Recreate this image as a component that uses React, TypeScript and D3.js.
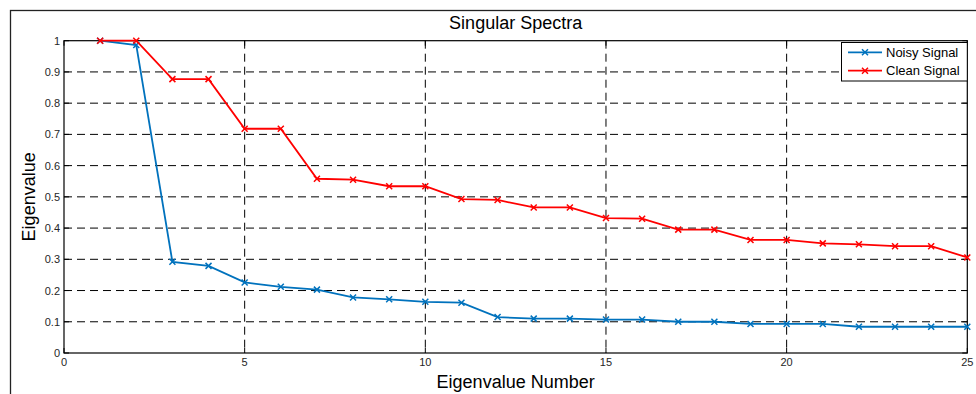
import React from "react";
import * as d3 from "d3";

const eigenNumbers = d3.range(1, 26);
const noisySignal = [1.0, 0.986, 0.292, 0.279, 0.226, 0.212, 0.203, 0.178, 0.172, 0.164, 0.161, 0.115, 0.110, 0.110, 0.107, 0.107, 0.100, 0.100, 0.093, 0.093, 0.093, 0.084, 0.084, 0.084, 0.084];
const cleanSignal = [1.0, 1.0, 0.877, 0.877, 0.718, 0.718, 0.558, 0.555, 0.534, 0.534, 0.493, 0.490, 0.466, 0.466, 0.432, 0.430, 0.395, 0.395, 0.362, 0.362, 0.351, 0.348, 0.342, 0.342, 0.306];
const xTicks = [0, 5, 10, 15, 20, 25];
const yTicks = [0, 0.1, 0.2, 0.3, 0.4, 0.5, 0.6, 0.7, 0.8, 0.9, 1];
const seriesNames = ["Noisy Signal", "Clean Signal"];
const seriesColors = ["#0072BD", "#FF0000"];

const W = 976;
const H = 394;
const L = 64, R = 967.3, T = 40.7, B = 353;
const FONT = "'Liberation Sans', Arial, sans-serif";

export default function App() {
  const x = d3.scaleLinear().domain([0, 25]).range([L, R]);
  const y = d3.scaleLinear().domain([0, 1]).range([B, T]);
  const series = [noisySignal, cleanSignal];
  const line = d3
    .line<number>()
    .x((_, i) => x(eigenNumbers[i]))
    .y((d) => y(d));

  const Cross = ({ cx, cy, color }: { cx: number; cy: number; color: string }) => {
    const s = 3;
    return (
      <path
        d={`M${cx - s},${cy - s}L${cx + s},${cy + s}M${cx - s},${cy + s}L${cx + s},${cy - s}`}
        stroke={color}
        strokeWidth={1.5}
        fill="none"
      />
    );
  };

  return (
    <svg
      width={W}
      height={H}
      style={{ position: "absolute", left: 0, top: 0, background: "#fff" }}
      fontFamily={FONT}
    >
      <rect x={0} y={0} width={W} height={H} fill="#fff" />
      {/* outer frame */}
      <rect x={10.5} y={10.5} width={1000} height={1000} fill="none" stroke="#222" strokeWidth={1.3} />

      {/* grid */}
      {xTicks.slice(1, -1).map((t) => (
        <line key={"gx" + t} x1={x(t)} x2={x(t)} y1={T} y2={B} stroke="#000" strokeWidth={1} strokeDasharray="8,5" />
      ))}
      {yTicks.slice(1, -1).map((t) => (
        <line key={"gy" + t} x1={L} x2={R} y1={y(t)} y2={y(t)} stroke="#000" strokeWidth={1} strokeDasharray="8,5" />
      ))}

      {/* inward ticks */}
      {xTicks.map((t) => (
        <g key={"tx" + t}>
          <line x1={x(t)} x2={x(t)} y1={B} y2={B - 5} stroke="#000" />
          <line x1={x(t)} x2={x(t)} y1={T} y2={T + 5} stroke="#000" />
        </g>
      ))}
      {yTicks.map((t) => (
        <g key={"ty" + t}>
          <line x1={L} x2={L + 5} y1={y(t)} y2={y(t)} stroke="#000" />
          <line x1={R} x2={R - 5} y1={y(t)} y2={y(t)} stroke="#000" />
        </g>
      ))}

      {/* axes box */}
      <rect x={L} y={T} width={R - L} height={B - T} fill="none" stroke="#000" strokeWidth={1.2} />

      {/* tick labels */}
      {xTicks.map((t) => (
        <text key={"lx" + t} x={x(t)} y={366} fontSize={11} textAnchor="middle" fill="#262626">
          {t}
        </text>
      ))}
      {yTicks.map((t) => (
        <text key={"ly" + t} x={60} y={y(t) + 4} fontSize={11} textAnchor="end" fill="#262626">
          {t}
        </text>
      ))}

      {/* series */}
      {series.map((s, si) => (
        <g key={"s" + si}>
          <path d={line(s) || ""} fill="none" stroke={seriesColors[si]} strokeWidth={1.8} />
          {s.map((v, i) => (
            <Cross key={i} cx={x(eigenNumbers[i])} cy={y(v)} color={seriesColors[si]} />
          ))}
        </g>
      ))}

      {/* title and labels */}
      <text x={(L + R) / 2} y={29} fontSize={18} textAnchor="middle" fill="#000">
        Singular Spectra
      </text>
      <text x={(L + R) / 2} y={388} fontSize={18} textAnchor="middle" fill="#000">
        Eigenvalue Number
      </text>
      <text
        transform={`translate(35,${(T + B) / 2}) rotate(-90)`}
        fontSize={18}
        textAnchor="middle"
        fill="#000"
      >
        Eigenvalue
      </text>

      {/* legend */}
      <rect x={841.5} y={42.5} width={R - 841.5} height={38.5} fill="#fff" stroke="#000" strokeWidth={1} />
      {seriesNames.map((n, i) => {
        const ly = 52.3 + i * 18.4;
        return (
          <g key={"lg" + i}>
            <line x1={848} x2={882} y1={ly} y2={ly} stroke={seriesColors[i]} strokeWidth={1.8} />
            <Cross cx={865} cy={ly} color={seriesColors[i]} />
            <text x={886} y={ly + 4.5} fontSize={13} fill="#000">
              {n}
            </text>
          </g>
        );
      })}
    </svg>
  );
}
